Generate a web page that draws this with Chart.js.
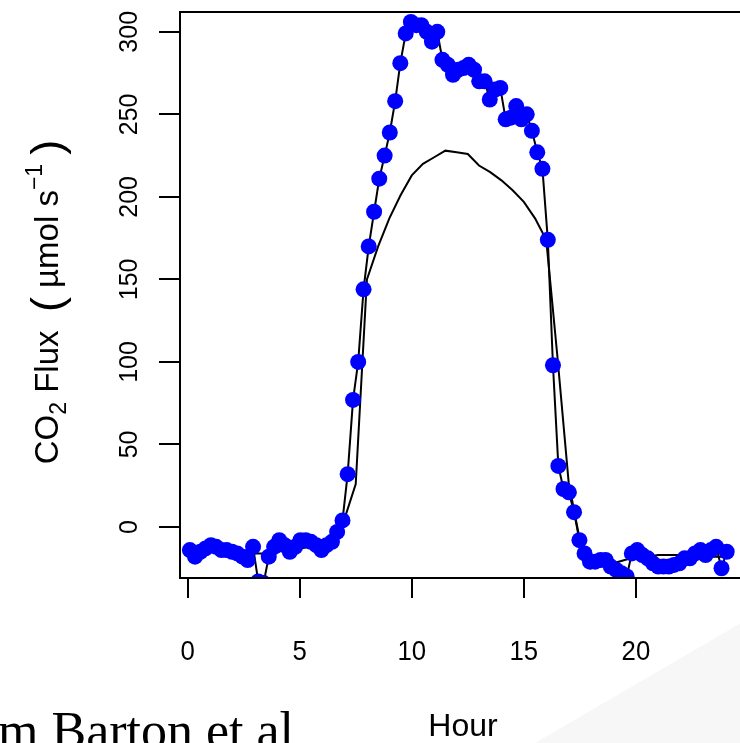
<!DOCTYPE html>
<html>
<head>
<meta charset="utf-8">
<script src="https://cdn.jsdelivr.net/npm/chart.js@4.4.1/dist/chart.umd.min.js"></script>
<style>
html, body { margin: 0; padding: 0; background: #fff; overflow: hidden; }
#wrap { position: relative; width: 760px; height: 743px; }
</style>
</head>
<body>
<div id="wrap"><canvas id="fluxChart" width="760" height="743"></canvas></div>
<script>
// measured flux (blue points)
var obsHour = [0.10, 0.33, 0.57, 0.80, 1.04, 1.27, 1.51, 1.74, 1.98, 2.21,
               2.45, 2.68, 2.92, 3.15, 3.39, 3.62, 3.86, 4.09, 4.33, 4.56,
               4.80, 5.03, 5.27, 5.50, 5.74, 5.97, 6.20, 6.44, 6.67, 6.91,
               7.14, 7.38, 7.61, 7.85, 8.08, 8.32, 8.55, 8.79, 9.02, 9.26,
               9.49, 9.73, 9.96, 10.20, 10.43, 10.67, 10.90, 11.14, 11.37, 11.61,
               11.84, 12.07, 12.31, 12.54, 12.78, 13.01, 13.25, 13.48, 13.72, 13.95,
               14.19, 14.42, 14.66, 14.89, 15.13, 15.36, 15.60, 15.83, 16.07, 16.30,
               16.54, 16.77, 17.01, 17.24, 17.48, 17.71, 17.95, 18.18, 18.42, 18.65,
               18.88, 19.12, 19.35, 19.59, 19.82, 20.06, 20.29, 20.53, 20.76, 21.00,
               21.23, 21.47, 21.70, 21.94, 22.17, 22.41, 22.64, 22.88, 23.11, 23.35,
               23.58, 23.82, 24.05];
var obsFlux = [-14, -18, -15, -13, -11, -12, -14, -14, -15, -16,
               -18, -20, -12, -33, -34, -18, -12, -8, -11, -15,
               -12, -8, -8, -9, -11, -14, -11, -9, -3, 4,
               32, 77, 100, 144, 170, 191, 211, 225, 239, 258,
               281, 299, 306, 304, 304, 300, 294, 300, 283, 280,
               274, 277, 278, 280, 277, 270, 270, 259, 265, 266,
               247, 248, 255, 247, 250, 240, 227, 217, 174, 98,
               37, 23, 21, 9, -8, -16, -21, -21, -20, -20,
               -24, -26, -28, -30, -16, -14, -17, -19, -22, -24,
               -24, -24, -23, -22, -19, -19, -16, -14, -17, -14,
               -12, -25, -15];

// modelled flux (plain black line), half hourly
var modelHour = [0, 0.5, 1, 1.5, 2, 2.5, 3, 3.5, 4, 4.5,
                 5, 5.5, 6, 6.5, 7, 7.5, 8, 8.5, 9, 9.5,
                 10, 10.5, 11, 11.5, 12, 12.5, 13, 13.5, 14, 14.5,
                 15, 15.5, 16, 16.5, 17, 17.5, 18, 18.5, 19, 19.5,
                 20, 20.5, 21, 21.5, 22, 22.5, 23, 23.5, 24];
var modelFlux = [-16, -16, -15, -15, -15, -16, -16, -16, -15, -14,
                 -13, -12, -11, -7, 5, 26, 150, 170, 187, 201,
                 213, 220, 224, 228, 227, 226, 219, 215, 210, 204,
                 197, 187, 174, 103, 27, -8, -25, -23, -22, -20,
                 -18, -18, -17, -17, -17, -17, -18, -18, -18];

var xTicks = [0, 5, 10, 15, 20];
var yTicks = [0, 50, 100, 150, 200, 250, 300];

var FONT = '"Liberation Sans", Arial, sans-serif';

function toPoints(xs, ys) {
    return xs.map(function(x, i) { return { x: x, y: ys[i] }; });
}

// R style box, rotated y labels and axis titles
var rStylePlugin = {
    id: 'rStyle',
    beforeDraw: function(chart) {
        var ctx = chart.ctx;
        ctx.save();
        ctx.fillStyle = '#ffffff';
        ctx.fillRect(0, 0, chart.width, chart.height);
        // faint slide background wedge
        ctx.fillStyle = '#f7f7f7';
        ctx.beginPath();
        ctx.moveTo(535, 743);
        ctx.lineTo(760, 612);
        ctx.lineTo(760, 743);
        ctx.closePath();
        ctx.fill();
        ctx.restore();
    },
    afterDraw: function(chart) {
        var ctx = chart.ctx;
        var area = chart.chartArea;
        var xs = chart.scales.x;
        var ys = chart.scales.y;
        ctx.save();
        ctx.strokeStyle = '#000';
        ctx.lineWidth = 2;
        ctx.strokeRect(area.left, area.top, area.right - area.left, area.bottom - area.top);

        ctx.fillStyle = '#000';
        ctx.font = '28px ' + FONT;
        ctx.textAlign = 'center';
        ctx.textBaseline = 'middle';
        xTicks.forEach(function(v) {
            ctx.save();
            ctx.translate(xs.getPixelForValue(v), 652);
            ctx.scale(0.92, 1);
            ctx.fillText(String(v), 0, 0);
            ctx.restore();
        });

        ctx.font = '25px ' + FONT;
        yTicks.forEach(function(v) {
            ctx.save();
            ctx.translate(130, ys.getPixelForValue(v));
            ctx.rotate(-Math.PI / 2);
            ctx.fillText(String(v), 0, 0);
            ctx.restore();
        });

        ctx.font = '32px ' + FONT;
        ctx.fillText('Hour', 463, 727);

        // y title: CO2 Flux (umol s-1) with sub/superscripts
        var parts = [
            { t: 'CO', size: 33, dy: 0 },
            { t: '2', size: 23, dy: 8 },
            { t: ' Flux  ', size: 33, dy: 0 },
            { t: '(', size: 45, dy: 4 },
            { t: ' \u00b5mol s', size: 33, dy: 0 },
            { t: '\u22121', size: 23, dy: -16 },
            { t: ' ', size: 33, dy: 0 },
            { t: ')', size: 45, dy: 4 }
        ];
        var total = 0;
        parts.forEach(function(p) {
            ctx.font = p.size + 'px ' + FONT;
            p.w = ctx.measureText(p.t).width;
            total += p.w;
        });
        ctx.translate(58, 302);
        ctx.rotate(-Math.PI / 2);
        ctx.textAlign = 'left';
        ctx.textBaseline = 'alphabetic';
        var cx = -total / 2;
        parts.forEach(function(p) {
            ctx.font = p.size + 'px ' + FONT;
            ctx.fillText(p.t, cx, p.dy);
            cx += p.w;
        });
        ctx.restore();

        // caption cut off at the slide edge
        ctx.save();
        ctx.fillStyle = '#000';
        ctx.font = '52px "Liberation Serif", "Times New Roman", serif';
        ctx.textBaseline = 'alphabetic';
        var lead = ctx.measureText('Fro').width;
        ctx.fillText('From Barton et al', -lead - 2, 748);
        ctx.restore();
    }
};

var ctx = document.getElementById('fluxChart').getContext('2d');
var chart = new Chart(ctx, {
    type: 'scatter',
    data: {
        datasets: [
            {
                label: 'measured',
                data: toPoints(obsHour, obsFlux),
                showLine: true,
                borderColor: '#000000',
                borderWidth: 2,
                pointRadius: 8,
                pointBackgroundColor: '#0000ff',
                pointBorderColor: '#0000ff',
                pointBorderWidth: 0,
                clip: 0
            },
            {
                label: 'model',
                data: toPoints(modelHour, modelFlux),
                showLine: true,
                borderColor: '#000000',
                borderWidth: 2,
                pointRadius: 0,
                clip: 0
            }
        ]
    },
    options: {
        responsive: false,
        animation: false,
        devicePixelRatio: 1,
        layout: { padding: { top: 12, left: 0, right: 0, bottom: 0 } },
        plugins: {
            legend: { display: false },
            tooltip: { enabled: false }
        },
        scales: {
            x: {
                type: 'linear',
                min: -0.34,
                max: 25.18,
                afterBuildTicks: function(scale) {
                    scale.ticks = xTicks.map(function(v) { return { value: v }; });
                },
                afterFit: function(scale) { scale.height = 165; },
                ticks: { display: false },
                grid: {
                    drawOnChartArea: false,
                    drawTicks: true,
                    tickLength: 20,
                    color: '#000',
                    lineWidth: 2
                },
                border: { display: true, color: '#000', width: 2 }
            },
            y: {
                type: 'linear',
                min: -30.9,
                max: 312,
                afterBuildTicks: function(scale) {
                    scale.ticks = yTicks.map(function(v) { return { value: v }; });
                },
                afterFit: function(scale) { scale.width = 180; },
                ticks: { display: false },
                grid: {
                    drawOnChartArea: false,
                    drawTicks: true,
                    tickLength: 21,
                    color: '#000',
                    lineWidth: 2
                },
                border: { display: true, color: '#000', width: 2 }
            }
        }
    },
    plugins: [rStylePlugin]
});
</script>
</body>
</html>
